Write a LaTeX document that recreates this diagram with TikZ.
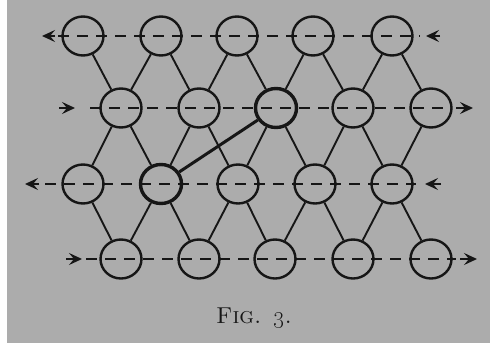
\documentclass[tikz,border=0pt]{standalone}
\usetikzlibrary{shapes.geometric,arrows.meta}
\definecolor{paper}{RGB}{172,172,172}
\definecolor{ink}{RGB}{22,22,22}
\begin{document}
\begin{tikzpicture}[x=1pt,y=-1pt,
  ball/.style={ellipse, draw=ink, line width=2.4pt, minimum width=41pt, minimum height=39pt, inner sep=0pt},
  boldball/.style={ball, line width=3.4pt},
  link/.style={draw=ink, line width=1.9pt},
  boldlink/.style={draw=ink, line width=3pt},
  flow/.style={draw=ink, line width=2.4pt, dash pattern=on 11pt off 8pt},
  tipmark/.style={draw=ink, line width=1.8pt, -{Stealth[length=13pt,width=12pt,inset=5pt]}}]
\fill[paper] (0,0) rectangle (490,343);
\fill[white] (0,0) rectangle (7,343);
\useasboundingbox (0,0) rectangle (490,343);
% row 1
\node[ball] (a1) at (83,36) {};
\node[ball] (a2) at (161,36) {};
\node[ball] (a3) at (237,36) {};
\node[ball] (a4) at (313,36) {};
\node[ball] (a5) at (392,36) {};
% row 2
\node[ball] (b1) at (121,108) {};
\node[ball] (b2) at (199,108) {};
\node[boldball] (b3) at (276,108) {};
\node[ball] (b4) at (353,108) {};
\node[ball] (b5) at (431,108) {};
% row 3
\node[ball] (c1) at (83,184) {};
\node[boldball] (c2) at (161,184) {};
\node[ball] (c3) at (238,184) {};
\node[ball] (c4) at (315,184) {};
\node[ball] (c5) at (392,184) {};
% row 4
\node[ball] (d1) at (121,259) {};
\node[ball] (d2) at (199,259) {};
\node[ball] (d3) at (275,259) {};
\node[ball] (d4) at (353,259) {};
\node[ball] (d5) at (431,259) {};
% links row1-row2
\draw[link] (a1) -- (b1); \draw[link] (a2) -- (b1);
\draw[link] (a2) -- (b2); \draw[link] (a3) -- (b2);
\draw[link] (a3) -- (b3); \draw[link] (a4) -- (b3);
\draw[link] (a4) -- (b4); \draw[link] (a5) -- (b4);
\draw[link] (a5) -- (b5);
% links row2-row3
\draw[link] (b1) -- (c1); \draw[link] (b1) -- (c2);
\draw[link] (b2) -- (c2); \draw[link] (b2) -- (c3);
\draw[link] (b3) -- (c3); \draw[link] (b3) -- (c4);
\draw[link] (b4) -- (c4); \draw[link] (b4) -- (c5);
\draw[link] (b5) -- (c5);
% links row3-row4
\draw[link] (c1) -- (d1); \draw[link] (c2) -- (d1);
\draw[link] (c2) -- (d2); \draw[link] (c3) -- (d2);
\draw[link] (c3) -- (d3); \draw[link] (c4) -- (d3);
\draw[link] (c4) -- (d4); \draw[link] (c5) -- (d4);
\draw[link] (c5) -- (d5);
% bold diagonal
\draw[boldlink] (c2) -- (b3);
% flow lines
\coordinate (f1s) at (58,36);  \coordinate (f1e) at (420,36);
\coordinate (f2s) at (90,108); \coordinate (f2e) at (452,108);
\coordinate (f3s) at (45,184); \coordinate (f3e) at (416,184);
\coordinate (f4s) at (86,259); \coordinate (f4e) at (456,259);
\draw[flow] (f1s) -- (f1e);
\draw[flow] (f2s) -- (f2e);
\draw[flow] (f3s) -- (f3e);
\draw[flow] (f4s) -- (f4e);
% arrow marks
\coordinate (t1a) at (55,36);  \coordinate (t1b) at (42,36);
\coordinate (t1c) at (440,36); \coordinate (t1d) at (426,36);
\coordinate (t2a) at (59,108); \coordinate (t2b) at (75,108);
\coordinate (t2c) at (456,108); \coordinate (t2d) at (473,108);
\coordinate (t3a) at (39,184); \coordinate (t3b) at (25,184);
\coordinate (t3c) at (441,184); \coordinate (t3d) at (425,184);
\coordinate (t4a) at (66,259); \coordinate (t4b) at (82,259);
\coordinate (t4c) at (460,259); \coordinate (t4d) at (477,259);
\draw[tipmark] (t1a) -- (t1b);
\draw[tipmark] (t1c) -- (t1d);
\draw[tipmark] (t2a) -- (t2b);
\draw[tipmark] (t2c) -- (t2d);
\draw[tipmark] (t3a) -- (t3b);
\draw[tipmark] (t3c) -- (t3d);
\draw[tipmark] (t4a) -- (t4b);
\draw[tipmark] (t4c) -- (t4d);
% caption
\node[text=ink, inner sep=0pt] (cap) at (254,318) {\fontsize{23}{23}\selectfont\textsc{Fig. \oldstylenums{3}.}};
\end{tikzpicture}
\end{document}
